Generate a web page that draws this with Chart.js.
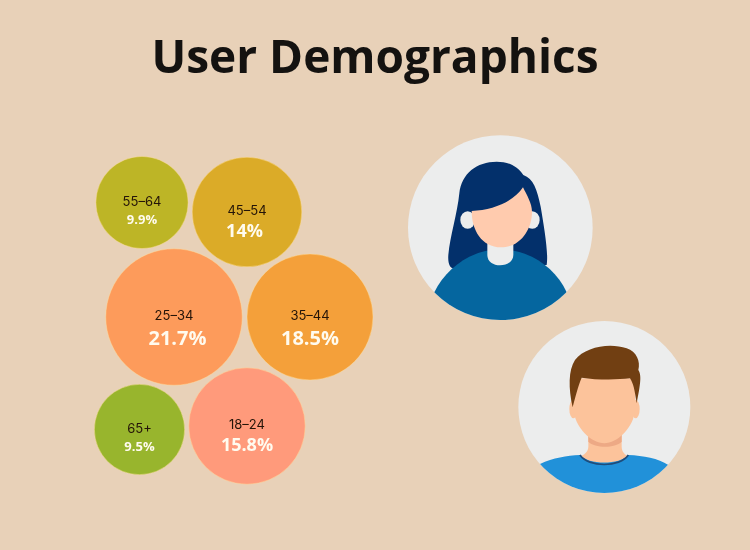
<!DOCTYPE html>
<html>
<head>
<meta charset="utf-8">
<script src="https://cdn.jsdelivr.net/npm/chart.js@4"></script>
<style>
html,body{margin:0;padding:0;background:#E8D1B8;width:750px;height:550px;overflow:hidden}
#art{position:absolute;left:0;top:0;width:750px;height:550px}
#c{position:absolute;left:0;top:0}
</style>
</head>
<body>
<svg id="art" viewBox="0 0 750 550" xmlns="http://www.w3.org/2000/svg" aria-hidden="true">
  <defs>
    <clipPath id="cf"><circle cx="301" cy="293" r="277"/></clipPath>
    <clipPath id="cm"><circle cx="283" cy="276" r="258"/></clipPath>
  </defs>
  <g transform="translate(400,130) scale(0.33333)">
    <circle cx="301" cy="293" r="277" fill="#ECEDED"/>
    <path fill="#03306B" d="M290 95C230 95 185 130 178 190C172 250 150 320 145 375C143 400 150 415 160 415L440 405C446 370 432 290 422 230C412 180 400 145 370 135C350 105 320 95 290 95Z"/>
    <ellipse cx="203" cy="270" rx="22" ry="26" fill="#ECEDED"/>
    <ellipse cx="397" cy="270" rx="22" ry="26" fill="#ECEDED"/>
    <g clip-path="url(#cf)">
      <path fill="#05669F" d="M103 487C140 410 220 358 300 358C385 358 465 410 500 487L500 600L103 600Z"/>
    </g>
    <path fill="#ECEDED" d="M262 335L340 335L340 375C340 395 320 406 300 406C280 406 262 395 262 375Z"/>
    <path fill="#FFCBAE" d="M215 243C215 300 245 352 303 352C360 352 396 300 396 245C396 220 380 195 369 172C340 215 280 240 215 243Z"/>
  </g>
  <g transform="translate(510,315) scale(0.33333)">
    <circle cx="283" cy="276" r="258" fill="#ECEDED"/>
    <ellipse cx="190" cy="282" rx="12" ry="28" fill="#FCC39B"/>
    <ellipse cx="377" cy="282" rx="12" ry="28" fill="#FCC39B"/>
    <path fill="#FCC39B" d="M235 355L335 355L335 395C335 410 345 420 358 425L283 455L208 425C222 420 235 410 235 395Z"/>
    <path fill="#EDA985" d="M235 360L335 360L335 380C315 400 255 400 235 380Z"/>
    <path fill="#FCC39B" d="M190 190L376 190L376 280C372 340 320 385 283 385C245 385 194 340 190 280Z"/>
    <path fill="#713F12" d="M188 277C175 220 175 165 195 135C225 95 300 82 350 100C380 110 392 140 385 165C395 180 392 205 380 265C374 225 370 205 360 190C320 195 260 195 215 188C205 210 195 250 188 277Z"/>
    <g clip-path="url(#cm)">
      <path fill="#2191D9" d="M90 447C130 428 170 422 210 420C235 450 330 450 355 420C400 422 445 430 475 450L475 600L90 600Z"/>
    </g>
    <path fill="none" stroke="#1F4C7A" stroke-width="5" d="M210 420C235 458 330 458 355 420"/>
  </g>
</svg>
<canvas id="c" width="750" height="550"></canvas>
<script>
const ageGroups = ["55–64", "45–54", "25–34", "35–44", "65+", "18–24"];
const shares = [9.9, 14, 21.7, 18.5, 9.5, 15.8];
const bubbleX = [142, 247, 174, 310, 139.5, 247];
const bubbleY = [202.5, 212, 317, 317, 429.5, 426];
const bubbleColors = ["#BDB526", "#DBAB28", "#FD9B5B", "#F4A03A", "#98B52D", "#FF9A7B"];
const titleText = "User Demographics";

const RADIUS_PER_ROOT = 14.65;
const valueSize = v => v < 11 ? 13 : v < 17 ? 18 : 20;

const bubbleLabels = {
  id: "bubbleLabels",
  afterDatasetsDraw(chart) {
    const ctx = chart.ctx;
    chart.getDatasetMeta(0).data.forEach((el, i) => {
      const v = shares[i];
      const size = valueSize(v);
      ctx.save();
      ctx.textAlign = "center";
      ctx.textBaseline = "middle";
      ctx.fillStyle = "#241408";
      ctx.font = "400 13px Inter";
      ctx.fillText(ageGroups[i], el.x, el.y - 0.5);
      ctx.fillStyle = "#FFFBEF";
      ctx.font = "700 " + size + "px 'Open Sans'";
      ctx.fillText(v + "%", el.x + (v > 20 ? 3.5 : v === 14 ? -2.5 : 0), el.y + (v < 11 ? 18 : 20 + (size - 18)));
      ctx.restore();
    });
  }
};

new Chart(document.getElementById("c"), {
  type: "bubble",
  data: {
    labels: ageGroups,
    datasets: [{
      data: shares.map((v, i) => ({ x: bubbleX[i], y: bubbleY[i], r: Math.sqrt(v) * RADIUS_PER_ROOT })),
      backgroundColor: bubbleColors,
      borderColor: "rgba(255,225,160,0.45)",
      borderWidth: 1
    }]
  },
  options: {
    responsive: false,
    animation: false,
    layout: { padding: 0, autoPadding: false },
    scales: {
      x: { type: "linear", min: 0, max: 750, display: false },
      y: { type: "linear", min: 100, max: 550, reverse: true, display: false }
    },
    plugins: {
      legend: { display: false },
      tooltip: { enabled: false },
      title: {
        display: true,
        text: titleText,
        color: "#141210",
        font: { family: "'Open Sans'", size: 46, weight: "700", lineHeight: 1.2 },
        padding: { top: 32.4, bottom: 12.4 }
      }
    }
  },
  plugins: [bubbleLabels]
});
</script>
</body>
</html>
